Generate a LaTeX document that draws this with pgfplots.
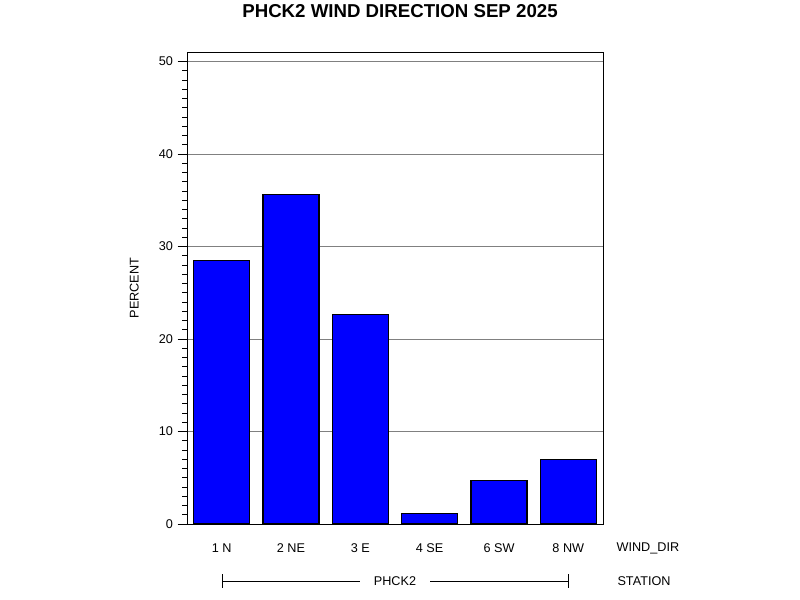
\documentclass[border=0pt]{standalone}
\usepackage{fontspec}
\setmainfont{Liberation Sans}
\usepackage{pgfplots}
\pgfplotsset{compat=1.18}
\begin{document}
\begin{tikzpicture}
\path[use as bounding box] (0,0) rectangle (600pt,450pt);
\begin{axis}[
  at={(140.25pt,57pt)}, anchor=south west,
  scale only axis, width=312pt, height=354pt,
  xmin=-0.5, xmax=5.5, ymin=0, ymax=51,
  ybar, bar width=42pt,
  xtick=data, xticklabels={1 N,2 NE,3 E,4 SE,6 SW,8 NW},
  x tick style={draw=none},
  ytick={0,10,20,30,40,50},
  minor y tick num=9,
  y tick style={black, thin},
  tick align=outside,
  major tick length=7pt, minor tick length=3.5pt,
  ytick pos=left, xtick pos=bottom,
  ymajorgrids, major grid style={gray, thin},
  axis line style={black, thin},
  tick label style={font=\fontsize{9.5}{10}\selectfont},
  /pgf/number format/assume math mode=true,
  xticklabel style={anchor=center, yshift=-11pt},
  ylabel={PERCENT},
  ylabel style={at={(-0.127,0.5)}, anchor=center, font=\fontsize{9.5}{10}\selectfont},
  xlabel={WIND\_DIR},
  xlabel style={at={(1.108,-0.0508)}, anchor=center, font=\fontsize{9.5}{10}\selectfont},
]
\addplot[fill={rgb,255:red,0;green,0;blue,255}, draw=black, line width=0.9pt] coordinates {
  (0,28.5) (1,35.6) (2,22.6) (3,1.1) (4,4.7) (5,7.0)
};
\end{axis}
\node[font=\fontsize{14}{16}\selectfont\bfseries] at (300pt,441.5pt) {PHCK2 WIND DIRECTION SEP 2025};
\draw[black, thin] (166.5pt,14.25pt) -- (270pt,14.25pt);
\draw[black, thin] (322.5pt,14.25pt) -- (426pt,14.25pt);
\draw[black, thin] (166.5pt,9pt) -- (166.5pt,19.5pt);
\draw[black, thin] (426pt,9pt) -- (426pt,19.5pt);
\node[font=\fontsize{9.5}{10}\selectfont] at (296.25pt,14.25pt) {PHCK2};
\node[font=\fontsize{9.5}{10}\selectfont] at (483pt,14.25pt) {STATION};
\end{tikzpicture}
\end{document}
